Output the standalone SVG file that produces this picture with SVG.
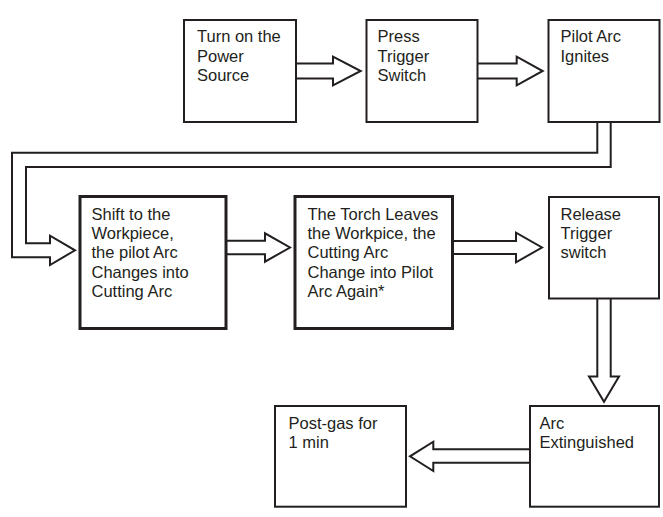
<svg xmlns="http://www.w3.org/2000/svg" width="663" height="517" viewBox="0 0 663 517">
<style>
.box{fill:#fff;stroke:#231f20;stroke-width:2}
.thick{stroke-width:3}
.lbl{font-family:"Liberation Sans",Arial,Helvetica,sans-serif;font-size:16.5px;fill:#231f20}
.arr{fill:#fff;stroke:#231f20;stroke-width:2;stroke-linejoin:miter}
</style>
<rect width="663" height="517" fill="#fff"/>
<g id="connectors">
<path class="arr" d="M296,63.5 H333 V56.7 L360.7,71 L333,85.3 V78.5 H296"/>
<path class="arr" d="M477.5,63.5 H516.7 V56.7 L542.7,71 L516.7,85.3 V78.5 H477.5"/>
<path class="arr" d="M597.3,122 V152.7 H12 V257.3 H50 V265 L75,250.3 L50,235.7 V243.3 H26 V167 H610.7 V122"/>
<path class="arr" d="M226,240.7 H265 V233.3 L290,247.5 L265,261.7 V254.3 H226"/>
<path class="arr" d="M452.5,241 H516 V232.7 L542,247.5 L516,262.3 V254 H452.5"/>
<path class="arr" d="M597.3,298.5 V376.5 H589 L604,401.7 L619,376.5 H610.7 V298.5"/>
<path class="arr" d="M530,449.3 H433.3 V441.7 L410,456.3 L433.3,471 V462.7 H530"/>
</g>
<g id="n1">
<rect class="box" x="184" y="20" width="112" height="102"/>
<text class="lbl" x="197" y="42"><tspan x="197">Turn on the</tspan><tspan x="197" dy="19.5">Power</tspan><tspan x="197" dy="19.5">Source</tspan></text>
</g>
<g id="n2">
<rect class="box" x="366.5" y="20" width="111" height="102"/>
<text class="lbl" x="377.5" y="42"><tspan x="377.5">Press</tspan><tspan x="377.5" dy="19.5">Trigger</tspan><tspan x="377.5" dy="19.5">Switch</tspan></text>
</g>
<g id="n3">
<rect class="box" x="548.5" y="20" width="111" height="102"/>
<text class="lbl" x="560.5" y="42"><tspan x="560.5">Pilot Arc</tspan><tspan x="560.5" dy="19.5">Ignites</tspan></text>
</g>
<g id="n4">
<rect class="box thick" x="80" y="196.5" width="146" height="132"/>
<text class="lbl" x="91.5" y="220"><tspan x="91.5">Shift to the</tspan><tspan x="91.5" dy="19.2">Workpiece,</tspan><tspan x="91.5" dy="19.2">the pilot Arc</tspan><tspan x="91.5" dy="19.2">Changes into</tspan><tspan x="91.5" dy="19.2">Cutting Arc</tspan></text>
</g>
<g id="n5">
<rect class="box thick" x="295" y="196.5" width="157.5" height="132"/>
<text class="lbl" x="307.5" y="220"><tspan x="307.5">The Torch Leaves</tspan><tspan x="307.5" dy="19.2">the Workpice, the</tspan><tspan x="307.5" dy="19.2">Cutting Arc</tspan><tspan x="307.5" dy="19.2">Change into Pilot</tspan><tspan x="307.5" dy="19.2">Arc Again*</tspan></text>
</g>
<g id="n6">
<rect class="box" x="549" y="197" width="110" height="101.5"/>
<text class="lbl" x="560.5" y="220"><tspan x="560.5">Release</tspan><tspan x="560.5" dy="19.2">Trigger</tspan><tspan x="560.5" dy="19.2">switch</tspan></text>
</g>
<g id="n7">
<rect class="box" x="530" y="406" width="129" height="100.7"/>
<text class="lbl" x="539.5" y="429"><tspan x="539.5">Arc</tspan><tspan x="539.5" dy="18.7">Extinguished</tspan></text>
</g>
<g id="n8">
<rect class="box" x="275" y="406" width="131" height="100.7"/>
<text class="lbl" x="288.5" y="429"><tspan x="288.5">Post-gas for</tspan><tspan x="288.5" dy="18.7">1 min</tspan></text>
</g>
</svg>
